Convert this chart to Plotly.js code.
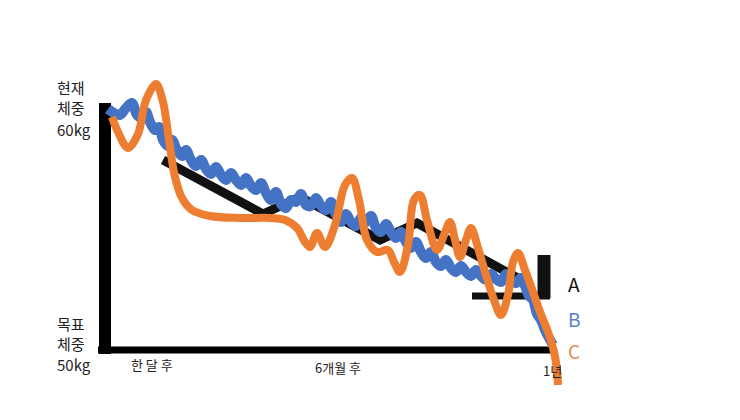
<!DOCTYPE html>
<html><head><meta charset="utf-8">
<script src="https://cdn.plot.ly/plotly-3.0.1.min.js"></script>
<style>html,body{margin:0;padding:0;background:#fff;}#chart{width:740px;height:420px;}</style>
</head><body><div id="chart"></div>
<script>
// x = days since start, y = weight (kg)
const axisXDays = [-5.6, 358.4];
const axisXKg = [50, 50];
const axisYDays = [0, 0];
const axisYKg = [49.84, 59.88];

const daysA = [46.4, 126.4, 156, 220, 249.6, 336];
const kgA = [57.60, 55.44, 56.12, 54.40, 55.08, 52.72];
const daysAbase = [293.6, 356];
const kgAbase = [52.16, 52.16];
const daysAbar = [351.2, 351.2];
const kgAbar = [53.80, 52.08];

const daysB = [2.4,7.2,12,16.8,21.6,25.6,29.6,32.8,36,40,43.2,46.4,50.4,53.6,57.6,61.6,64.8,68.8,72.8,76.8,80.8,84.8,88.8,92.8,96.8,100.8,104.8,108.8,112.8,116.8,120.8,124.8,128.8,132.8,136.8,140.8,144.8,148.8,152.8,156.8,160.8,164.8,168.8,172.8,176.8,180.8,184.8,188.8,192.8,196.8,200.8,204.8,208.8,212.8,216.8,220.8,224.8,228.8,232.8,236.8,240.8,244.8,248.8,252.8,256.8,260.8,264.8,268.8,272.8,276.8,280.8,284.8,288.8,292.8,296.8,300.8,304.8,308.8,312.8,316.8,320.8,324.8,328.8,332.8,336,339.2,342.4,345.6,348.8,352,355.2,358.4];
const kgB = [59.64,59.48,59.40,59.68,59.88,59.40,59.28,59.52,59.12,58.80,58.92,58.40,58.16,58.40,58.00,57.76,58.00,57.60,57.36,57.60,57.24,57.04,57.32,57.00,56.80,57.08,56.80,56.60,56.88,56.56,56.40,56.68,56.28,56.00,56.32,55.84,55.68,56.00,55.92,56.24,55.80,55.76,56.08,55.76,55.60,55.92,55.40,55.12,55.44,55.12,54.96,55.28,55.12,55.36,54.88,54.72,55.04,54.72,54.48,54.72,54.32,54.08,54.32,53.92,53.68,53.92,53.52,53.36,53.60,53.28,53.12,53.36,53.12,52.96,53.20,52.96,52.80,53.04,52.84,52.72,53.04,52.76,52.68,52.88,52.56,52.16,52.00,51.44,51.20,50.80,50.48,50.20];

const daysC = [5.6,10.4,18.4,26.4,32.8,40.8,46.4,51.2,56,61.6,69.6,84,108,132,144,153.6,160,164,169.6,176,184,192,197.6,203.2,209.6,217.6,226.4,231.2,236,242.4,247.2,252,257.6,265.6,271.2,276,280,284,288.8,292.8,298.4,304.8,311.2,316.8,322.4,326.4,330.4,336,342.4,348,354.4,359.2,361.6,362.4];
const kgC = [59.32,58.72,58.08,58.64,60.00,60.64,59.92,58.40,56.92,56.08,55.60,55.36,55.28,55.28,55.20,54.88,54.32,54.12,54.68,54.12,55.00,56.60,56.88,56.00,54.40,53.92,54.00,53.52,53.12,54.20,56.00,56.20,55.20,54.00,54.60,55.12,54.40,53.72,54.40,54.88,54.08,53.00,52.00,51.40,52.20,53.52,53.88,53.20,52.32,51.52,50.72,49.92,49.20,48.60];

const tickLabels = ['한 달 후', '6개월 후', '1년'];
const tickDays = [37.6, 186.4, 357.6];
const tickKg = [49.44, 49.32, 49.20];

const startLabel = ['현재', '체중', '60kg'];
const goalLabel = ['목표', '체중', '50kg'];

const seriesNames = ['A', 'B', 'C'];
const seriesColors = ['#111111', '#4472C4', '#ED7D31'];
const labelColors = ['#111111', '#5B80C8', '#DE8B4C'];

const FONT = '"Noto Sans CJK KR", "Noto Sans", sans-serif';

const traces = [
  {x: axisYDays, y: axisYKg, mode: 'lines', line: {color: '#000', width: 12}},
  {x: axisXDays, y: axisXKg, mode: 'lines', line: {color: '#000', width: 7}},
  {x: daysA, y: kgA, mode: 'lines', name: 'A', line: {color: seriesColors[0], width: 9}},
  {x: daysAbase, y: kgAbase, mode: 'lines', line: {color: seriesColors[0], width: 7}},
  {x: daysAbar, y: kgAbar, mode: 'lines', line: {color: seriesColors[0], width: 13}},
  {x: daysB, y: kgB, mode: 'lines', name: 'B', line: {color: seriesColors[1], width: 10, shape: 'spline', smoothing: 1}},
  {x: daysC, y: kgC, mode: 'lines', name: 'C', line: {color: seriesColors[2], width: 8, shape: 'spline', smoothing: 1}}
];

const annotations = [];
const startY = [87, 108, 129];
const goalY = [323, 343, 364];
startLabel.forEach((t, i) => annotations.push({xref: 'paper', yref: 'paper', x: 56/740, y: 1 - startY[i]/420,
  xanchor: 'left', yanchor: 'middle', align: 'left', text: t, showarrow: false, borderpad: 0,
  font: {family: FONT, size: 15, color: '#222'}}));
goalLabel.forEach((t, i) => annotations.push({xref: 'paper', yref: 'paper', x: 56/740, y: 1 - goalY[i]/420,
  xanchor: 'left', yanchor: 'middle', align: 'left', text: t, showarrow: false, borderpad: 0,
  font: {family: FONT, size: 15, color: '#222'}}));
tickLabels.forEach((t, i) => annotations.push({x: tickDays[i], y: tickKg[i], xref: 'x', yref: 'y', text: t, showarrow: false,
  xanchor: 'center', yanchor: 'middle', font: {family: FONT, size: 13, color: '#222'}}));
const legendY = [283, 318, 350];
seriesNames.forEach((n, i) => annotations.push({xref: 'paper', yref: 'paper', x: 574/740, y: 1 - legendY[i]/420, text: n,
  showarrow: false, xanchor: 'center', yanchor: 'middle', font: {family: FONT, size: 19, color: labelColors[i]}}));

const layout = {
  width: 740, height: 420,
  margin: {l: 0, r: 0, t: 0, b: 0},
  paper_bgcolor: '#fff', plot_bgcolor: '#fff',
  showlegend: false, hovermode: false,
  xaxis: {range: [-84, 508], visible: false, fixedrange: true},
  yaxis: {range: [47.2, 64], visible: false, fixedrange: true},
  annotations: annotations
};

Plotly.newPlot('chart', traces, layout, {displayModeBar: false, staticPlot: true});
</script>
</body></html>
